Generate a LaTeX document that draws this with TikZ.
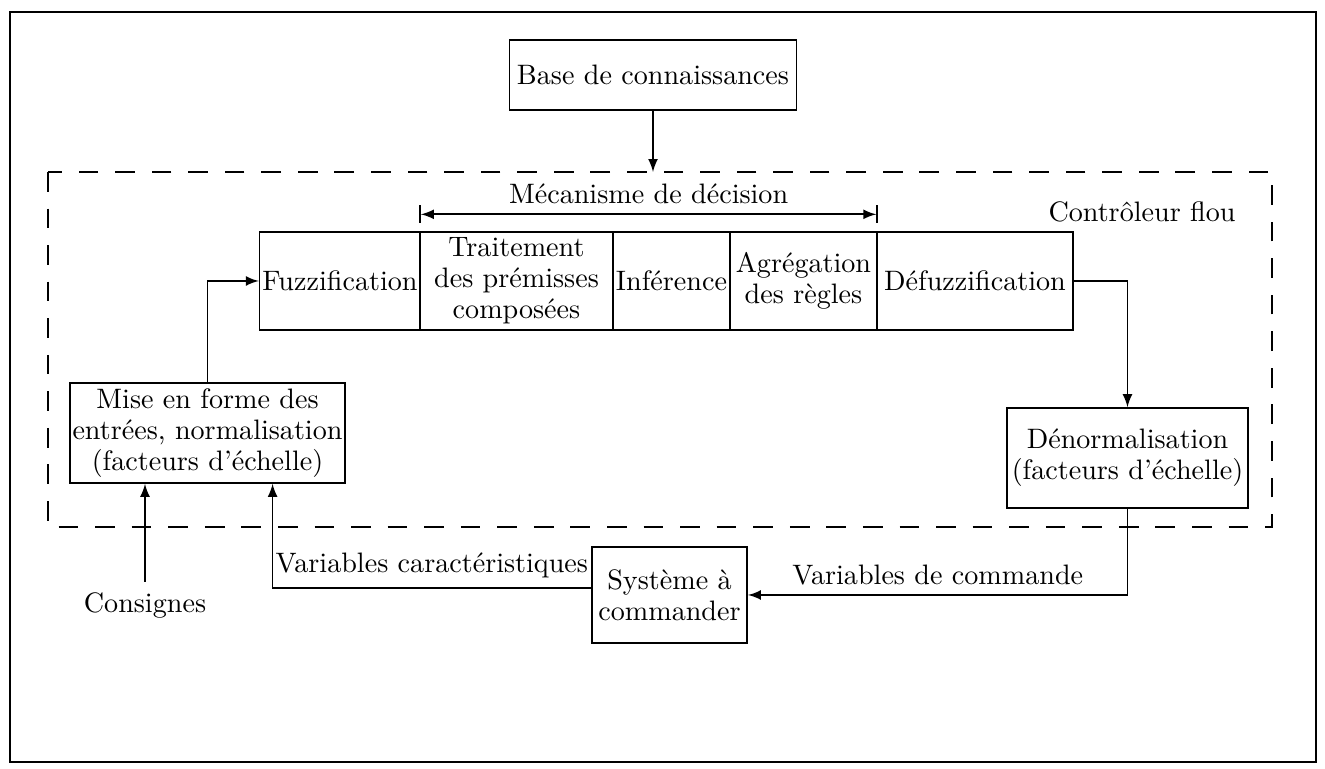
\documentclass[tikz,border=0pt]{standalone}
\usepackage{fontspec}

\begin{document}
\begin{tikzpicture}[x=0.0125cm,y=-0.0125cm,>=latex,semithick,
  bloc/.style={draw,align=center,inner xsep=1pt,inner ysep=1pt,font=\fontsize{10}{11}\selectfont}]
\useasboundingbox (0,0) rectangle (1325,769);
\draw (10,12) rectangle (1316,762);
\draw[thick,dash pattern=on 7pt off 6pt] (48,172) coordinate (c1) rectangle (1272,527);
\node[bloc,minimum width=3.59cm,minimum height=0.88cm] (1) at (653,75) {Base de connaissances};
\node[bloc,minimum width=2.0cm,minimum height=1.225cm] (2) at (340,281) {Fuzzification};
\node[bloc,minimum width=2.41cm,minimum height=1.225cm] (3) at (516.5,281) {Traitement\\des prémisses\\composées};
\node[bloc,minimum width=1.46cm,minimum height=1.225cm] (4) at (671.5,281) {Inférence};
\node[bloc,minimum width=1.84cm,minimum height=1.225cm] (5) at (803.5,281) {Agrégation\\des règles};
\node[bloc,minimum width=2.45cm,minimum height=1.225cm] (6) at (975,281) {Défuzzification};
\node[bloc,minimum width=3.44cm,minimum height=1.25cm] (7) at (207.5,433) {Mise en forme des\\entrées, normalisation\\(facteurs d'échelle)};
\node[bloc,minimum width=3.01cm,minimum height=1.25cm] (8) at (1127.5,458) {Dénormalisation\\(facteurs d'échelle)};
\node[bloc,minimum width=1.94cm,minimum height=1.2cm] (9) at (669.5,595) {Système à\\commander};
\node (10) at (145,605) {Consignes};
\node (11) at (1142,212) {Contrôleur flou};
\path[draw,->] (1) -- (1 |- c1);
\path[draw,|<->|] ([yshift=0.21cm]3.north west) -- ([yshift=0.21cm]5.north east) node[midway,above] {Mécanisme de décision};
\path[draw,->] (7.north) |- (2.west);
\path[draw,->] (6.east) -| (8.north);
\path[draw,->] (8.south) |- (9.east) node[pos=0.75,above] {Variables de commande};
\path[draw,->] (9.175) -| (7.-38) node[pos=0.25,above] {Variables caractéristiques};
\path[draw,->] (10) -- (10 |- 7.south);
\end{tikzpicture}
\end{document}
